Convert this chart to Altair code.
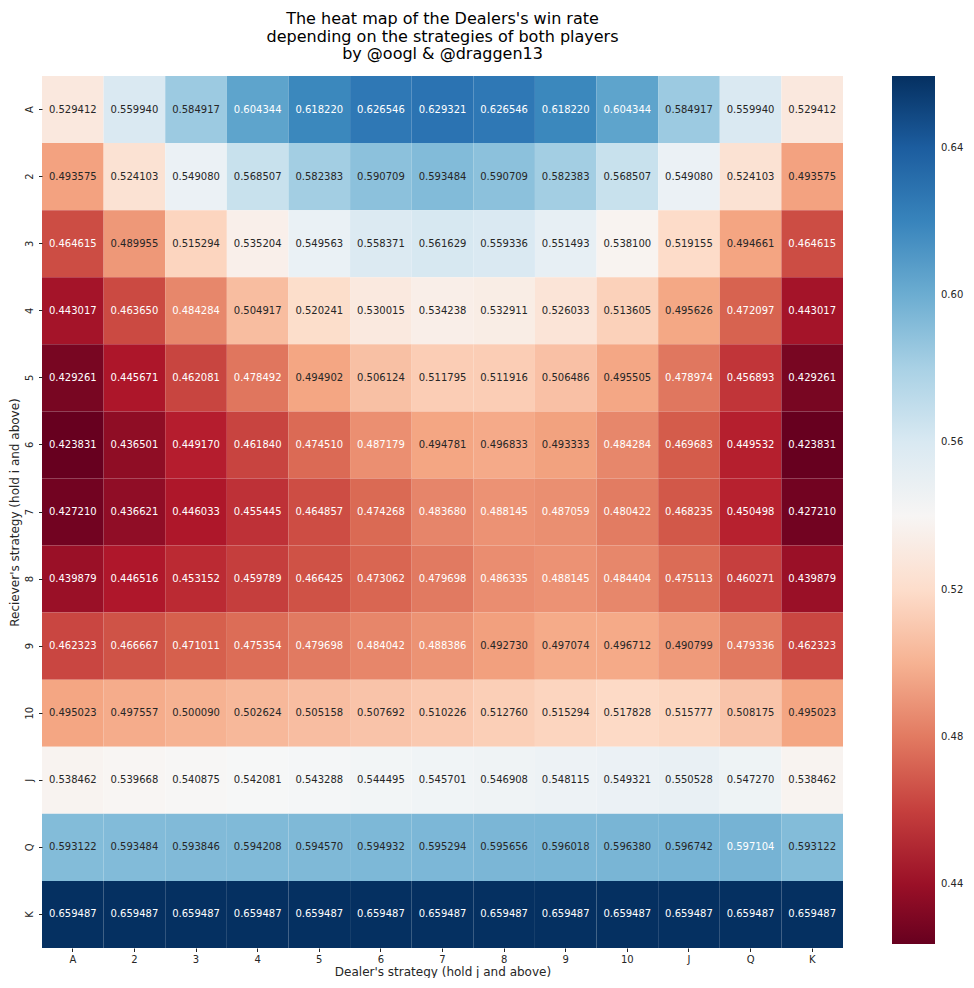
import altair as alt
import pandas as pd

cards = ["A", "2", "3", "4", "5", "6", "7", "8", "9", "10", "J", "Q", "K"]

row_A = [0.529412, 0.559940, 0.584917, 0.604344, 0.618220, 0.626546, 0.629321, 0.626546, 0.618220, 0.604344, 0.584917, 0.559940, 0.529412]
row_2 = [0.493575, 0.524103, 0.549080, 0.568507, 0.582383, 0.590709, 0.593484, 0.590709, 0.582383, 0.568507, 0.549080, 0.524103, 0.493575]
row_3 = [0.464615, 0.489955, 0.515294, 0.535204, 0.549563, 0.558371, 0.561629, 0.559336, 0.551493, 0.538100, 0.519155, 0.494661, 0.464615]
row_4 = [0.443017, 0.463650, 0.484284, 0.504917, 0.520241, 0.530015, 0.534238, 0.532911, 0.526033, 0.513605, 0.495626, 0.472097, 0.443017]
row_5 = [0.429261, 0.445671, 0.462081, 0.478492, 0.494902, 0.506124, 0.511795, 0.511916, 0.506486, 0.495505, 0.478974, 0.456893, 0.429261]
row_6 = [0.423831, 0.436501, 0.449170, 0.461840, 0.474510, 0.487179, 0.494781, 0.496833, 0.493333, 0.484284, 0.469683, 0.449532, 0.423831]
row_7 = [0.427210, 0.436621, 0.446033, 0.455445, 0.464857, 0.474268, 0.483680, 0.488145, 0.487059, 0.480422, 0.468235, 0.450498, 0.427210]
row_8 = [0.439879, 0.446516, 0.453152, 0.459789, 0.466425, 0.473062, 0.479698, 0.486335, 0.488145, 0.484404, 0.475113, 0.460271, 0.439879]
row_9 = [0.462323, 0.466667, 0.471011, 0.475354, 0.479698, 0.484042, 0.488386, 0.492730, 0.497074, 0.496712, 0.490799, 0.479336, 0.462323]
row_10 = [0.495023, 0.497557, 0.500090, 0.502624, 0.505158, 0.507692, 0.510226, 0.512760, 0.515294, 0.517828, 0.515777, 0.508175, 0.495023]
row_J = [0.538462, 0.539668, 0.540875, 0.542081, 0.543288, 0.544495, 0.545701, 0.546908, 0.548115, 0.549321, 0.550528, 0.547270, 0.538462]
row_Q = [0.593122, 0.593484, 0.593846, 0.594208, 0.594570, 0.594932, 0.595294, 0.595656, 0.596018, 0.596380, 0.596742, 0.597104, 0.593122]
row_K = [0.659487, 0.659487, 0.659487, 0.659487, 0.659487, 0.659487, 0.659487, 0.659487, 0.659487, 0.659487, 0.659487, 0.659487, 0.659487]

rows = [row_A, row_2, row_3, row_4, row_5, row_6, row_7, row_8, row_9, row_10, row_J, row_Q, row_K]
colorbar_ticks = [0.44, 0.48, 0.52, 0.56, 0.60, 0.64]

records = []
for r_card, row in zip(cards, rows):
    for d_card, v in zip(cards, row):
        records.append({"dealer": d_card, "receiver": r_card, "win_rate": v})
df = pd.DataFrame(records)

rdbu = ["#67001f", "#b2182b", "#d6604d", "#f4a582", "#fddbc7", "#f7f7f7",
        "#d1e5f0", "#92c5de", "#4393c3", "#2166ac", "#053061"]
vmin, vmax = df["win_rate"].min(), df["win_rate"].max()
stops = [vmin + (vmax - vmin) * i / 10 for i in range(11)]

FONT = "DejaVu Sans"

base = alt.Chart(df).encode(
    x=alt.X("dealer:O", sort=cards,
            scale=alt.Scale(paddingInner=0, paddingOuter=0),
            axis=alt.Axis(title="Dealer's strategy (hold j and above)", labelAngle=0,
                          domain=False, tickSize=3.5, labelPadding=3, titlePadding=2)),
    y=alt.Y("receiver:O", sort=cards,
            scale=alt.Scale(paddingInner=0, paddingOuter=0),
            axis=alt.Axis(title="Reciever's strategy (hold i and above)", labelAngle=-90,
                          labelAlign="center", labelBaseline="bottom",
                          domain=False, tickSize=3.5, labelPadding=4, titlePadding=3)),
)

heat = base.mark_rect().encode(
    color=alt.Color("win_rate:Q",
                    scale=alt.Scale(domain=stops, range=rdbu, interpolate="rgb"),
                    legend=alt.Legend(title=None, values=colorbar_ticks, format=".2f",
                                      gradientLength=868, gradientThickness=43,
                                      offset=49, labelFontSize=10, labelOffset=6,
                                      labelColor="#262626", labelFont=FONT,
                                      padding=0, gradientStrokeWidth=0))
)

text = base.mark_text(fontSize=10, font=FONT).encode(
    text=alt.Text("win_rate:Q", format=".6f"),
    color=alt.condition("datum.win_rate < 0.489 || datum.win_rate > 0.597",
                        alt.value("#ffffff"), alt.value("#262626")),
)

chart = (heat + text).properties(
    width=956, height=970,
    autosize=alt.AutoSizeParams(type="fit", contains="padding"),
    padding={"left": 0, "top": 3, "right": 0, "bottom": 0},
    title=alt.TitleParams(
        text=["The heat map of the Dealers's win rate",
              "depending on the strategies of both players",
              "by @oogl & @draggen13"],
        fontSize=16, fontWeight="normal", font=FONT, anchor="middle",
        lineHeight=17.5, offset=14, color="#000000"),
).configure_axis(
    labelFont=FONT, titleFont=FONT, labelFontSize=10, titleFontSize=12,
    titleFontWeight="normal", labelColor="#262626", titleColor="#262626",
    tickColor="#262626", grid=False,
).configure_view(strokeWidth=0)

chart.save("out.html", embed_options={"renderer": "svg", "actions": False})
